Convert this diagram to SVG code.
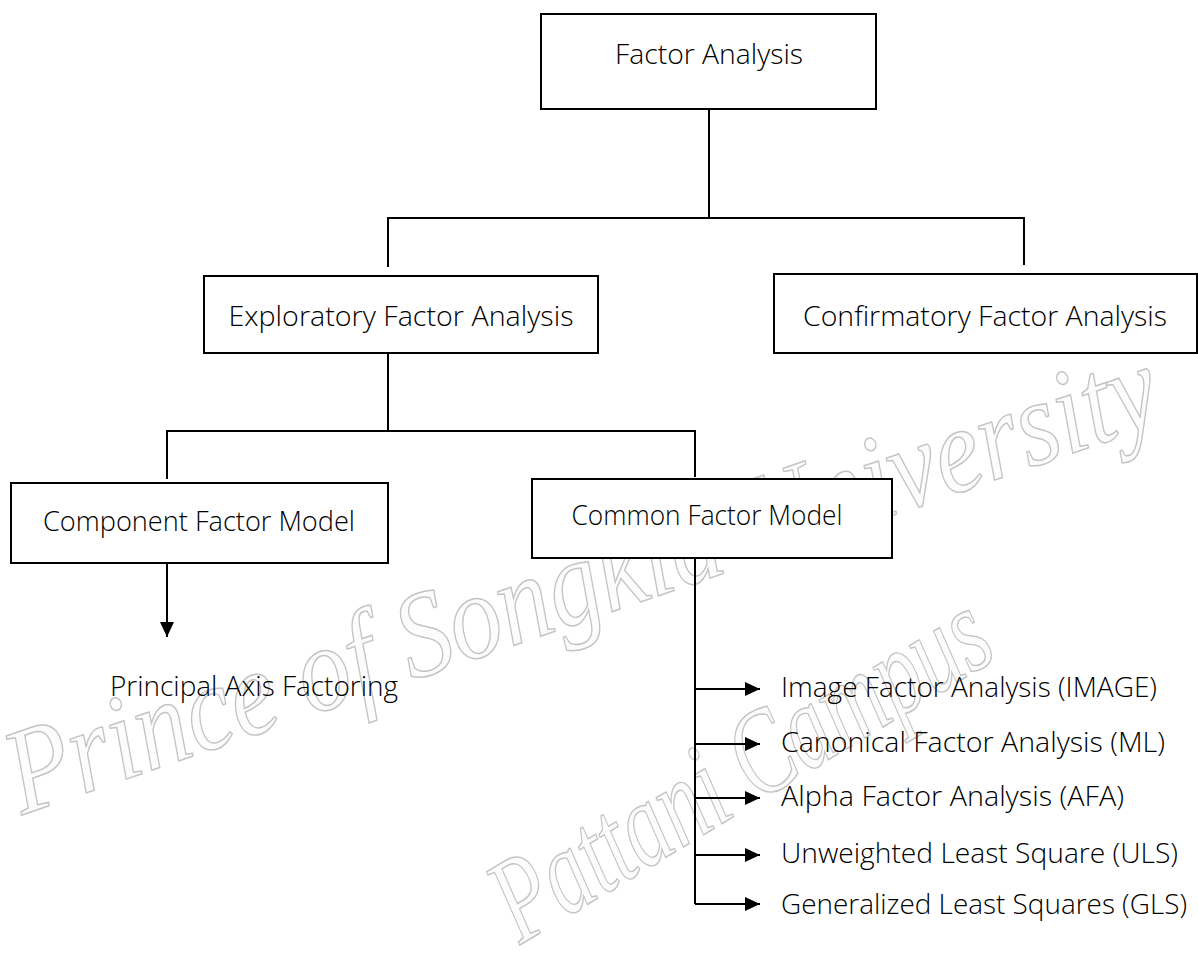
<svg xmlns="http://www.w3.org/2000/svg" width="1198" height="957" viewBox="0 0 1198 957">
<style>
.box{fill:#fff;stroke:#000;stroke-width:2}
.t{font-family:"Open Sans","Noto Sans","Liberation Sans",sans-serif;font-weight:300;font-size:28px;fill:#000}
.c{text-anchor:middle}
.ln{fill:none;stroke:#000;stroke-width:2}
.wm{font-family:"Liberation Serif","DejaVu Serif",serif;font-style:italic;font-size:122px;fill:#fcfcfc;stroke:#c4c4c4;stroke-width:1.5}
</style>
<defs>
<marker id="ah" viewBox="0 0 15 14" refX="15" refY="7" markerWidth="15" markerHeight="14" markerUnits="userSpaceOnUse" orient="auto">
<path d="M0,0 L15,7 L0,14 Z" fill="#000"/>
</marker>
</defs>
<rect width="1198" height="957" fill="#fff"/>
<g id="watermark">
<text class="wm" transform="translate(22,815) rotate(-19)" textLength="1210" lengthAdjust="spacingAndGlyphs">Prince of Songkla University</text>
<text class="wm" transform="translate(520,945) rotate(-31)" textLength="560" lengthAdjust="spacingAndGlyphs">Pattani Campus</text>
</g>
<g id="connectors">
<path class="ln" d="M709,109 V218"/>
<path class="ln" d="M388,267 V218 H1024 V265"/>
<path class="ln" d="M388,353 V431"/>
<path class="ln" d="M167,479 V431 H695 V477"/>
<path class="ln" d="M167,563 V637" marker-end="url(#ah)"/>
<path class="ln" d="M695,558 V904"/>
<path class="ln" d="M695,689 H760" marker-end="url(#ah)"/>
<path class="ln" d="M695,744 H760" marker-end="url(#ah)"/>
<path class="ln" d="M695,798 H760" marker-end="url(#ah)"/>
<path class="ln" d="M695,855 H760" marker-end="url(#ah)"/>
<path class="ln" d="M695,904 H760" marker-end="url(#ah)"/>
</g>
<g id="factor-analysis">
<rect class="box" x="541" y="14" width="335" height="95"/>
<text class="t c" x="709" y="64" textLength="188" lengthAdjust="spacingAndGlyphs">Factor Analysis</text>
</g>
<g id="exploratory">
<rect class="box" x="204" y="276" width="394" height="77"/>
<text class="t c" x="401" y="326" textLength="345" lengthAdjust="spacingAndGlyphs">Exploratory Factor Analysis</text>
</g>
<g id="confirmatory">
<rect class="box" x="774" y="274" width="423" height="79"/>
<text class="t c" x="985" y="326" textLength="364" lengthAdjust="spacingAndGlyphs">Confirmatory Factor Analysis</text>
</g>
<g id="component">
<rect class="box" x="11" y="483" width="377" height="80"/>
<text class="t c" x="199" y="531" textLength="312" lengthAdjust="spacingAndGlyphs">Component Factor Model</text>
</g>
<g id="common">
<rect class="box" x="532" y="479" width="360" height="79"/>
<text class="t c" x="707" y="525" textLength="271" lengthAdjust="spacingAndGlyphs">Common Factor Model</text>
</g>
<g id="principal">
<text class="t" x="110" y="696" textLength="288" lengthAdjust="spacingAndGlyphs">Principal Axis Factoring</text>
</g>
<g id="image-fa"><text class="t" x="781" y="697" textLength="376" lengthAdjust="spacingAndGlyphs">Image Factor Analysis (IMAGE)</text></g>
<g id="canonical-fa"><text class="t" x="781" y="752" textLength="384" lengthAdjust="spacingAndGlyphs">Canonical Factor Analysis (ML)</text></g>
<g id="alpha-fa"><text class="t" x="781" y="806" textLength="343" lengthAdjust="spacingAndGlyphs">Alpha Factor Analysis (AFA)</text></g>
<g id="uls"><text class="t" x="781" y="863" textLength="397" lengthAdjust="spacingAndGlyphs">Unweighted Least Square (ULS)</text></g>
<g id="gls"><text class="t" x="781" y="914" textLength="406" lengthAdjust="spacingAndGlyphs">Generalized Least Squares (GLS)</text></g>
</svg>
